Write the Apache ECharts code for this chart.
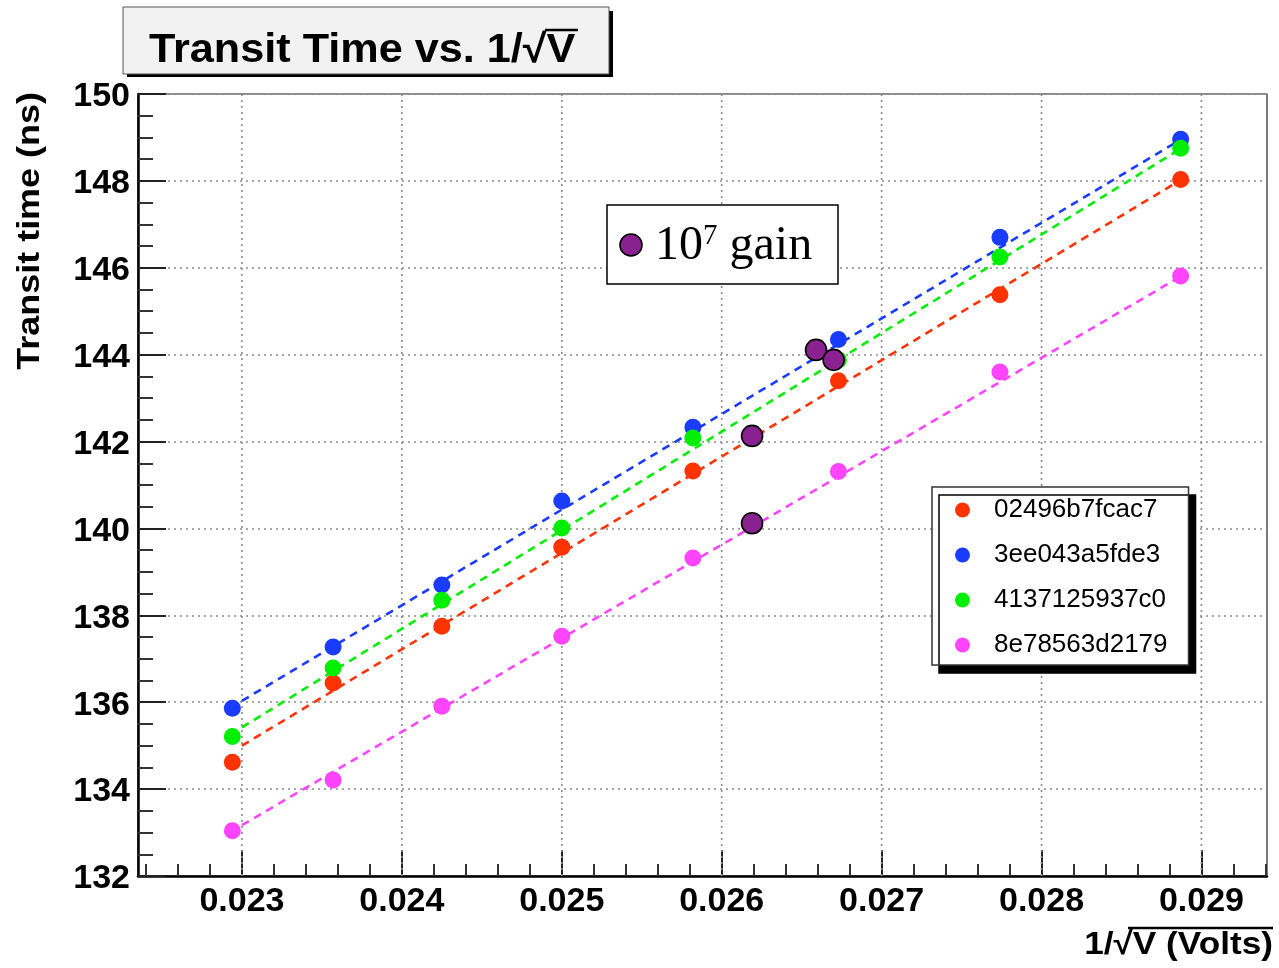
<!DOCTYPE html>
<html><head><meta charset="utf-8">
<script src="https://cdn.jsdelivr.net/npm/echarts@6/dist/echarts.min.js"></script>
<style>html,body{margin:0;padding:0;background:#fff}#c{width:1279px;height:968px}</style>
</head><body><div id="c"></div>
<script>
// ---- data ----
const xValues = [0.02294, 0.02357, 0.02425, 0.02500, 0.02582, 0.02673, 0.02774, 0.02887];
const seriesNames = ['02496b7fcac7', '3ee043a5fde3', '4137125937c0', '8e78563d2179'];
const seriesColors = ['#ff3300', '#1a3cff', '#00ee00', '#ff44ff'];
const redY     = [134.62, 136.44, 137.75, 139.57, 141.32, 143.40, 145.38, 148.03];
const blueY    = [135.86, 137.27, 138.70, 140.63, 142.33, 144.35, 146.70, 148.96];
const greenY   = [135.21, 136.79, 138.35, 140.01, 142.08, 143.88, 146.25, 148.75];
const magentaY = [133.04, 134.21, 135.91, 137.52, 139.32, 141.31, 143.60, 145.81];
const fitX = [0.02300, 0.02887];
const fitRed     = [135.00, 148.02];
const fitBlue    = [136.03, 148.95];
const fitGreen   = [135.42, 148.74];
const fitMagenta = [133.17, 145.80];
const gainX = [0.02659, 0.02670, 0.02619, 0.02619];
const gainY = [144.11, 143.88, 142.13, 140.12];
const xTickValues = [0.023, 0.024, 0.025, 0.026, 0.027, 0.028, 0.029];
const xMinorTickValues = [0.0224, 0.0226, 0.0228, 0.0232, 0.0234, 0.0236, 0.0238,
  0.0242, 0.0244, 0.0246, 0.0248, 0.0252, 0.0254, 0.0256, 0.0258,
  0.0262, 0.0264, 0.0266, 0.0268, 0.0272, 0.0274, 0.0276, 0.0278,
  0.0282, 0.0284, 0.0286, 0.0288, 0.0292, 0.0294];
const yTickValues = [132, 134, 136, 138, 140, 142, 144, 146, 148, 150];
const yMin = 132, yMax = 150;

const allY = [redY, blueY, greenY, magentaY];
const allFit = [fitRed, fitBlue, fitGreen, fitMagenta];
const FONT = 'Liberation Sans, Arial, Helvetica, sans-serif';
const SERIF = 'Liberation Serif, Times New Roman, serif';
const purple = '#8a2190';
const gridLine = {color: '#8a8a8a', type: [2, 4], width: 1.6};

const chart = echarts.init(document.getElementById('c'), null, {renderer: 'canvas'});

const series = [];
// vertical dotted grid lines at the major x ticks (positions via the axis scale)
series.push({
  type: 'custom', name: 'xgrid', xAxisIndex: 0, yAxisIndex: 0, silent: true, z: 1,
  data: xTickValues.map(v => [v]),
  encode: {x: 0},
  renderItem: (params, api) => {
    const v = api.value(0);
    const p1 = api.coord([v, yMin]);
    const p2 = api.coord([v, yMax]);
    return {type: 'line', shape: {x1: p1[0], y1: p1[1], x2: p2[0], y2: p2[1]},
      style: {stroke: gridLine.color, lineWidth: gridLine.width, lineDash: gridLine.type}};
  }
});
allFit.forEach((f, i) => {
  series.push({
    type: 'line', name: seriesNames[i] + ' fit', xAxisIndex: 0, yAxisIndex: 0,
    data: fitX.map((x, k) => [x, f[k]]), showSymbol: false, symbol: 'none',
    lineStyle: {color: seriesColors[i], width: 2.6, type: [8, 6]}, silent: true, z: 2
  });
});
allY.forEach((ys, i) => {
  series.push({
    type: 'scatter', name: seriesNames[i], xAxisIndex: 0, yAxisIndex: 0,
    data: xValues.map((x, k) => [x, ys[k]]), symbol: 'circle', symbolSize: 17,
    itemStyle: {color: seriesColors[i], opacity: 1}, z: 3
  });
});
series.push({
  type: 'scatter', name: 'gain', xAxisIndex: 0, yAxisIndex: 0,
  data: gainX.map((x, k) => [x, gainY[k]]), symbol: 'circle', symbolSize: 21,
  itemStyle: {color: purple, borderColor: '#000', borderWidth: 1.6, opacity: 1}, z: 5
});

const option = {
  backgroundColor: '#fff',
  animation: false,
  grid: {left: 138, right: 12, top: 94, bottom: 92, show: true, borderColor: '#222', borderWidth: 1.2,
    backgroundColor: 'transparent', containLabel: false, outerBoundsMode: 'none'},
  xAxis: [{
    type: 'value', min: 0.02235, max: 0.02941, position: 'bottom',
    axisLine: {show: true, onZero: false, lineStyle: {color: '#000', width: 2.5}},
    axisTick: {show: true, inside: true, length: 26, customValues: xTickValues, lineStyle: {color: '#222', width: 2}},
    axisLabel: {fontSize: 34, fontWeight: 'bold', color: '#000', fontFamily: FONT, margin: 9,
      customValues: xTickValues, formatter: v => v.toFixed(3)},
    splitLine: {show: false}
  }, {
    type: 'value', min: 0.02235, max: 0.02941, position: 'bottom',
    axisLine: {show: false},
    axisTick: {show: true, inside: true, length: 12, customValues: xMinorTickValues, lineStyle: {color: '#333', width: 2}},
    axisLabel: {show: false}, splitLine: {show: false}
  }],
  yAxis: {
    type: 'value', min: yMin, max: yMax, interval: 2,
    axisLine: {show: true, onZero: false, lineStyle: {color: '#000', width: 2.5}},
    axisTick: {show: true, inside: true, length: 28, lineStyle: {color: '#222', width: 2}},
    minorTick: {show: true, splitNumber: 4, length: 15, lineStyle: {color: '#333', width: 2}},
    axisLabel: {color: '#000', margin: 8,
      formatter: v => yTickValues.includes(v) ? '{t|' + v + '}' : '',
      rich: {t: {fontSize: 34, fontWeight: 'bold', fontFamily: FONT, color: '#000', padding: [6, 0, 0, 0]}}},
    splitLine: {show: true, lineStyle: gridLine}
  },
  legend: {
    show: true, orient: 'vertical', left: 932, top: 487,
    data: seriesNames, icon: 'circle', itemWidth: 15, itemHeight: 15, itemGap: 19,
    padding: [10, 21, 7, 23],
    textStyle: {fontSize: 26, fontFamily: FONT, color: '#000', padding: [0, 0, 0, 19]},
    backgroundColor: '#fff', borderColor: '#333', borderWidth: 1.5, borderRadius: 0,
    shadowColor: '#000', shadowBlur: 0, shadowOffsetX: 7, shadowOffsetY: 8,
    selectedMode: false
  },
  graphic: [
    // title box
    {type: 'rect', shape: {x: 127, y: 11, width: 486, height: 66}, style: {fill: '#000'}, z: 10},
    {type: 'rect', shape: {x: 123, y: 7, width: 486, height: 67}, style: {fill: '#f2f2f2', stroke: '#555', lineWidth: 1}, z: 11},
    {type: 'text', x: 149, y: 51, scaleX: 1.08, z: 12,
      style: {text: 'Transit Time vs. 1/\u221AV', fontSize: 40, fontWeight: 'bold', fontFamily: FONT, fill: '#000', align: 'left', verticalAlign: 'middle'}},
    {type: 'line', shape: {x1: 545, y1: 30, x2: 578, y2: 30}, style: {stroke: '#000', lineWidth: 2.6}, z: 12},
    // y axis title
    {type: 'text', x: 30, y: 92, rotation: Math.PI / 2, scaleX: 1.16, z: 12,
      style: {text: 'Transit time (ns)', fontSize: 31, fontWeight: 'bold', fontFamily: FONT, fill: '#000', align: 'right', verticalAlign: 'middle'}},
    // x axis title
    {type: 'text', x: 1273, y: 945, scaleX: 1.1, z: 12,
      style: {text: '1/\u221AV (Volts)', fontSize: 32, fontWeight: 'bold', fontFamily: FONT, fill: '#000', align: 'right', verticalAlign: 'middle'}},
    {type: 'line', shape: {x1: 1128, y1: 928, x2: 1273, y2: 928}, style: {stroke: '#000', lineWidth: 2.4}, z: 12},
    // gain box
    {type: 'rect', shape: {x: 607, y: 205, width: 231, height: 79}, style: {fill: '#fff', stroke: '#000', lineWidth: 1.5}, z: 10},
    {type: 'circle', shape: {cx: 631, cy: 245, r: 11}, style: {fill: purple, stroke: '#000', lineWidth: 1.6}, z: 11},
    {type: 'text', x: 655, y: 246, z: 11,
      style: {text: '{n|10}{s|7}{n| gain}', fill: '#000', verticalAlign: 'middle', align: 'left',
        rich: {n: {fontSize: 48, fontFamily: SERIF, lineHeight: 48}, s: {fontSize: 29, fontFamily: SERIF, verticalAlign: 'top', lineHeight: 29}}}}
  ],
  series: series
};
chart.setOption(option);
</script></body></html>
